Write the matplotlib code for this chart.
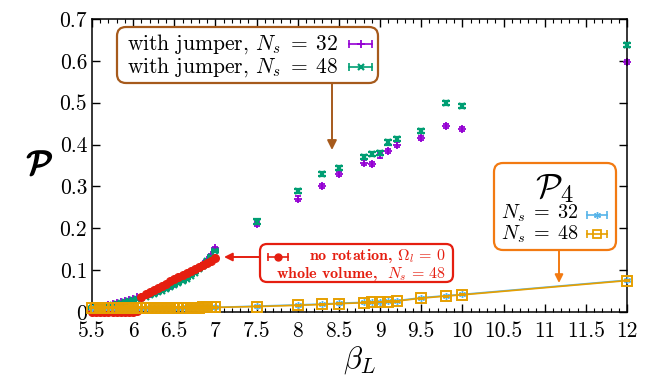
import matplotlib
matplotlib.use("Agg")
import matplotlib.pyplot as plt
import matplotlib.patheffects as pe
from matplotlib.patches import FancyBboxPatch
from matplotlib.ticker import MultipleLocator, FuncFormatter

# beta values: dense scan below 7, sparse points above
beta_fine = [5.50, 5.55, 5.60, 5.65, 5.70, 5.75, 5.80, 5.85, 5.90, 5.95, 6.00,
             6.05, 6.10, 6.15, 6.20, 6.25, 6.30, 6.35, 6.40, 6.45, 6.50,
             6.55, 6.60, 6.65, 6.70, 6.75, 6.80, 6.85, 6.90, 6.95, 7.00]
beta_coarse = [7.5, 8.0, 8.3, 8.5, 8.8, 8.9, 9.0, 9.1, 9.2, 9.5, 9.8, 10.0, 12.0]

# with jumper, Ns = 32 / 48
jump32_fine = [0.011, 0.012, 0.013, 0.015, 0.017, 0.019, 0.021, 0.023, 0.026, 0.029, 0.032,
               0.035, 0.037, 0.040, 0.043, 0.047, 0.051, 0.055, 0.059, 0.063, 0.068,
               0.073, 0.078, 0.084, 0.090, 0.097, 0.105, 0.114, 0.124, 0.136, 0.153]
jump48_fine = [0.010, 0.011, 0.012, 0.013, 0.015, 0.017, 0.019, 0.021, 0.023, 0.026, 0.029,
               0.032, 0.034, 0.037, 0.040, 0.043, 0.047, 0.051, 0.055, 0.059, 0.064,
               0.069, 0.074, 0.080, 0.087, 0.094, 0.102, 0.111, 0.121, 0.132, 0.146]
jump32_coarse = [0.210, 0.271, 0.301, 0.329, 0.357, 0.353, 0.374, 0.384, 0.400, 0.415, 0.444, 0.438, 0.597]
jump48_coarse = [0.216, 0.290, 0.330, 0.345, 0.370, 0.377, 0.379, 0.405, 0.413, 0.433, 0.500, 0.493, 0.637]
jump_err = 0.005

# no rotation, whole volume, Ns = 48
norot = [0.000, 0.000, 0.000, 0.000, 0.000, 0.000, 0.000, 0.000, 0.000, 0.000, 0.001,
         0.003, 0.036, 0.042, 0.048, 0.053, 0.058, 0.063, 0.068, 0.073, 0.078,
         0.083, 0.088, 0.093, 0.098, 0.103, 0.108, 0.113, 0.118, 0.123, 0.128]

# P4, Ns = 32 / 48
p4_32_fine = [0.010, 0.010, 0.010, 0.010, 0.010, 0.010, 0.010, 0.010, 0.010, 0.010, 0.010,
              0.010, 0.010, 0.010, 0.010, 0.010, 0.010, 0.010, 0.010, 0.010, 0.010,
              0.010, 0.010, 0.011, 0.011, 0.011, 0.011, 0.011, 0.011, 0.011, 0.011]
p4_48_fine = [0.010, 0.010, 0.010, 0.010, 0.010, 0.010, 0.010, 0.010, 0.010, 0.010, 0.010,
              0.010, 0.010, 0.010, 0.010, 0.010, 0.010, 0.010, 0.010, 0.010, 0.010,
              0.010, 0.010, 0.010, 0.010, 0.010, 0.010, 0.011, 0.011, 0.011, 0.011]
p4_32_coarse = [0.014, 0.017, 0.019, 0.021, 0.023, 0.024, 0.025, 0.026, 0.027, 0.034, 0.039, 0.042, 0.076]
p4_48_coarse = [0.013, 0.016, 0.018, 0.020, 0.022, 0.023, 0.024, 0.025, 0.026, 0.033, 0.038, 0.041, 0.075]

PURPLE = "#9400d3"
GREEN = "#009e73"
BLUE = "#56b4e9"
ORANGE = "#e69f00"
RED = "#e51e10"
BROWN = "#a65a1c"
BOXORANGE = "#f27a12"

plt.rcParams["font.family"] = "serif"
plt.rcParams["font.serif"] = ["cmr10"]
plt.rcParams["mathtext.fontset"] = "cm"
plt.rcParams["axes.formatter.use_mathtext"] = True

fig = plt.figure(figsize=(6.55, 3.81), dpi=100)
ax = fig.add_axes([92 / 655, 1 - 312 / 381, (627 - 92) / 655, (312 - 19) / 381])

beta_all = beta_fine + beta_coarse
ax.errorbar(beta_all, jump32_fine + jump32_coarse, yerr=[0.002] * 31 + [jump_err] * 13,
            fmt="+", color=PURPLE, ms=6, mew=1.3, elinewidth=1.1, capsize=2.5, clip_on=False, zorder=2)
ax.errorbar(beta_all, jump48_fine + jump48_coarse, yerr=[0.002] * 31 + [jump_err] * 13,
            fmt="x", color=GREEN, ms=5, mew=1.6, elinewidth=1.1, capsize=3, clip_on=False, zorder=3)
ax.errorbar(beta_fine, norot, yerr=0.002, fmt="o", color=RED, ms=5.5,
            elinewidth=1, capsize=2, clip_on=False, zorder=4)
ax.errorbar(beta_all, p4_32_fine + p4_32_coarse, yerr=0.001, fmt="-", marker=(6, 2, 0),
            color=BLUE, ms=5, lw=1.2, elinewidth=1, capsize=2, clip_on=False, zorder=5)
ax.errorbar(beta_all, p4_48_fine + p4_48_coarse, yerr=0.001, fmt="-", marker="s", mfc="none",
            color=ORANGE, ms=7, mew=1.4, lw=1.2, elinewidth=1, capsize=2, clip_on=False, zorder=6)

ax.set_xlim(5.5, 12)
ax.set_ylim(0, 0.7)
ax.xaxis.set_major_locator(MultipleLocator(0.5))
ax.xaxis.set_minor_locator(MultipleLocator(0.1))
ax.yaxis.set_major_locator(MultipleLocator(0.1))
fmt = FuncFormatter(lambda v, p: "%g" % round(v, 2))
ax.xaxis.set_major_formatter(fmt)
ax.yaxis.set_major_formatter(fmt)
ax.tick_params(which="both", direction="in", top=True, right=True, labelsize=15.5)
ax.tick_params(which="major", length=6, width=1)
ax.tick_params(which="minor", length=3, width=0.8)
ax.tick_params(axis="x", pad=7)
for s in ax.spines.values():
    s.set_linewidth(1.1)
ax.set_xlabel(r"$\beta_L$", fontsize=22, labelpad=2)
ylab = ax.set_ylabel(r"$\mathcal{P}$", fontsize=24, rotation=0, labelpad=14, va="center")
ylab.set_path_effects([pe.withStroke(linewidth=1.2, foreground="black")])

# overlay in pixel coordinates for keys and annotations
ov = fig.add_axes([0, 0, 1, 1])
ov.set_xlim(0, 655)
ov.set_ylim(381, 0)
ov.axis("off")
ov.patch.set_alpha(0)


def box(x0, y0, x1, y1, color, r):
    ov.add_patch(FancyBboxPatch((x0, y0), x1 - x0, y1 - y0,
                                boxstyle="round,pad=0,rounding_size=%g" % r,
                                fc="white", ec=color, lw=1.6, zorder=10))


def sample(x0, x1, y, color, **kw):
    ov.plot([x0, x1], [y, y], color=color, lw=1.2, zorder=11)
    ov.plot([x0, x1], [y, y], ls="none", marker="|", ms=6, mew=1.2, color=color, zorder=11)
    ov.plot([(x0 + x1) / 2], [y], ls="none", color=color, zorder=12, **kw)


# jumper key
box(117, 27, 378, 83, BROWN, 9)
ov.text(127, 44, r"with jumper, $N_s\;=\;32$", fontsize=15.5, va="center", zorder=12)
ov.text(127, 67, r"with jumper, $N_s\;=\;48$", fontsize=15.5, va="center", zorder=12)
sample(349, 372, 44, PURPLE, marker="+", ms=6, mew=1.3)
sample(349, 372, 67, GREEN, marker="x", ms=5, mew=1.6)
ov.annotate("", xy=(332, 150), xytext=(332, 83),
            arrowprops=dict(arrowstyle="-|>", color=BROWN, lw=1.4, mutation_scale=14, shrinkA=0, shrinkB=0))

# no-rotation key
box(260, 244, 453, 282, RED, 7)
sample(268, 288, 257, RED, marker="o", ms=5)
ov.text(446, 265, "no rotation, $\\Omega_l\\,=\\,0$\nwhole volume,  $N_s\\,=\\,48$",
        family="cmb10", fontsize=11.5, color=RED, ha="right", va="center",
        multialignment="right", linespacing=1.0, zorder=12)
ov.annotate("", xy=(224, 257), xytext=(260, 257),
            arrowprops=dict(arrowstyle="-|>", color=RED, lw=1.4, mutation_scale=12, shrinkA=0, shrinkB=0))

# P4 key
box(494, 163, 616, 250, BOXORANGE, 9)
ov.text(555, 188, r"$\mathcal{P}_4$", fontsize=25, ha="center", va="center", zorder=12)
ov.text(540, 213, r"$N_s\;=\;32$", fontsize=14.5, ha="center", va="center", zorder=12)
ov.text(540, 234, r"$N_s\;=\;48$", fontsize=14.5, ha="center", va="center", zorder=12)
sample(587, 607, 215, BLUE, marker=(6, 2, 0), ms=5)
sample(587, 607, 234, ORANGE, marker="s", mfc="none", ms=6, mew=1.3)
ov.annotate("", xy=(559, 283), xytext=(559, 250),
            arrowprops=dict(arrowstyle="-|>", color=BOXORANGE, lw=1.4, mutation_scale=12, shrinkA=0, shrinkB=0))

fig.savefig("out.png", dpi=100)
